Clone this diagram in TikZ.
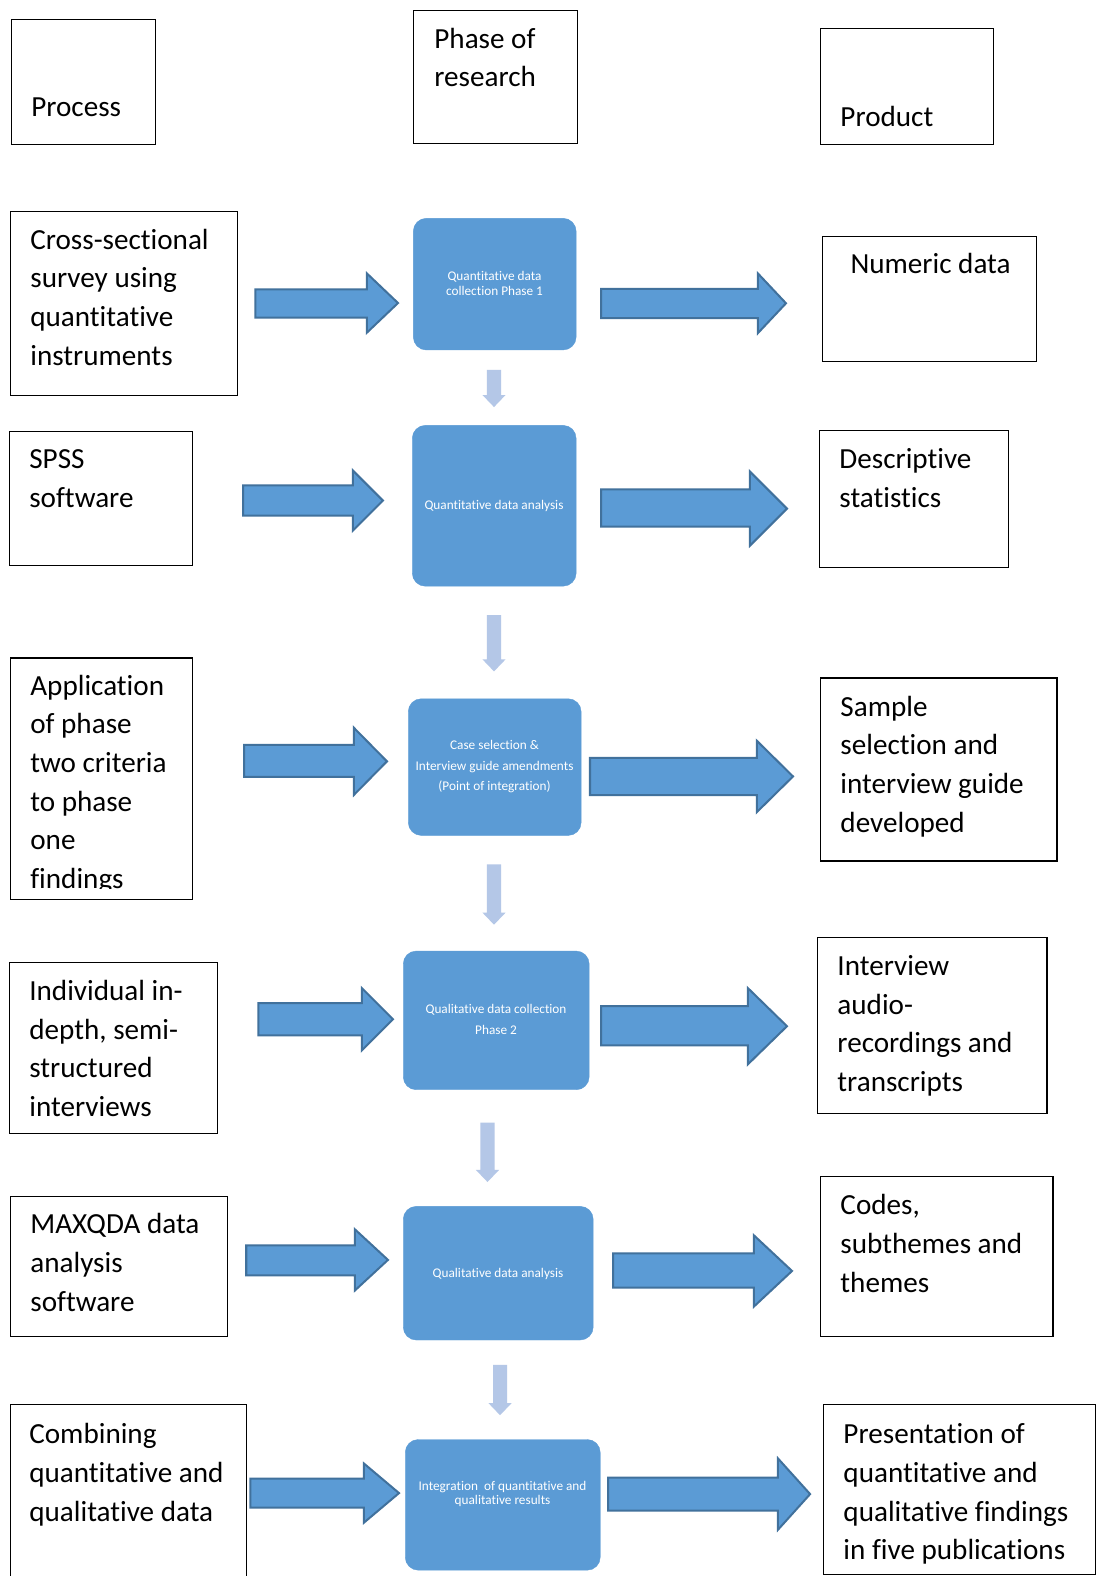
\documentclass[tikz,border=0pt]{standalone}
\usepackage{fontspec}
\setmainfont{Carlito}[Ligatures=NoCommon]
\definecolor{boxblue}{HTML}{5B9BD5}
\definecolor{arrowedge}{HTML}{41719C}
\definecolor{lightarrow}{HTML}{B4C7E7}
\tikzset{
  outline/.style={draw=black, line width=1.2pt, inner sep=0pt, anchor=north west},
  bluebox/.style={fill=boxblue, draw=boxblue, rounded corners=13pt, inner sep=0pt, anchor=north west},
  bigtext/.style={anchor=base west, inner sep=0pt, font=\fontsize{29}{38.5}\selectfont, text=black},
  smalltext/.style={inner sep=0pt, font=\fontsize{13.2}{14.2}\selectfont, text=white, align=center},
  widesmall/.style={smalltext, font=\fontsize{13.2}{20.5}\selectfont},
  blockarrow/.style={fill=boxblue, draw=arrowedge, line width=2pt, line join=miter},
  downarrow/.style={fill=lightarrow, draw=none},
}
\newcommand\plainbox[5]{\node[outline, minimum width={(#4-#2)*1pt}, minimum height={(#5-#3)*1pt}] (#1) at (#2,#3) {};}
\newcommand\bluebx[5]{\node[bluebox, minimum width={(#4-#2)*1pt}, minimum height={(#5-#3)*1pt}] (#1) at (#2,#3) {};}
\newcommand\txt[4]{\node[bigtext] (#1) at ({#2+2},#3) {\parbox[t]{400pt}{\raggedright #4}};}
\newcommand\rarrow[7]{\draw[blockarrow] (#1,#4) -- (#2,#4) -- (#2,#6) -- (#3,{(#6+#7)/2}) -- (#2,#7) -- (#2,#5) -- (#1,#5) -- cycle;}
\newcommand\darrow[3]{\fill[downarrow] ({#1-7},#2) -- ({#1+7},#2) -- ({#1+7},{#3-12}) -- ({#1+11.5},{#3-12}) -- (#1,#3) -- ({#1-11.5},{#3-12}) -- ({#1-7},{#3-12}) -- cycle;}
\begin{document}
\begin{tikzpicture}[x=1pt,y=-1pt]
\useasboundingbox (0,0) rectangle (1090,1568);
\fill[white] (0,0) rectangle (1090,1568);

% header
\plainbox{hproc}{11}{19}{154}{143}
\txt{thproc}{29}{116}{Process}
\plainbox{hphase}{411}{9.5}{574}{142.5}
\txt{thphase}{430}{48}{Phase of\\research}
\plainbox{hprod}{816}{28}{988}{143}
\txt{thprod}{834}{125.5}{Product}

% row 1
\plainbox{l1}{10}{210}{236}{393}
\txt{tl1}{28}{248}{Cross-sectional\\survey using\\quantitative\\instruments}
\bluebx{b1}{411}{217}{573}{348}
\node[smalltext] (tb1) at (492,282) {Quantitative data\\collection Phase 1};
\plainbox{r1}{818}{234.5}{1031}{359}
\txt{tr1}{844}{272.5}{Numeric data}
\rarrow{254}{365}{396}{288}{316}{272}{331}
\rarrow{598}{754}{782}{287.5}{316.5}{272}{331.5}
\darrow{491.5}{368}{405}

% row 2
\plainbox{l2}{9}{429}{191}{562}
\txt{tl2}{27}{466.5}{SPSS\\software}
\bluebx{b2}{410}{423}{573}{583}
\node[smalltext] (tb2) at (491.5,503) {Quantitative data analysis};
\plainbox{r2}{815}{428}{1003}{564}
\txt{tr2}{833}{466.5}{Descriptive\\statistics}
\rarrow{242}{351}{381}{483}{513}{468}{528}
\rarrow{598}{746}{783}{487}{524}{469}{543}
\darrow{491.5}{612}{668}

% row 3
\plainbox{l3}{10}{654}{191}{894}
\begin{scope}
\clip (10,654) rectangle (191,883.5);
\txt{tl3}{28}{691.5}{Application\\of phase\\two criteria\\to phase\\one\\findings}
\end{scope}
\bluebx{b3}{406}{695}{578}{831}
\node[widesmall] (tb3) at (492,763) {Case selection \&\\Interview guide amendments\\(Point of integration)};
\plainbox{r3}{816}{674}{1051}{856}
\txt{tr3}{834}{712.5}{Sample\\selection and\\interview guide\\developed}
\rarrow{243}{352}{385}{741}{773}{724}{791}
\rarrow{587}{753}{789}{754}{791}{737}{808}
\darrow{491.5}{860}{920}

% row 4
\plainbox{l4}{9}{957}{216}{1127}
\txt{tl4}{27}{995.5}{Individual in-\\depth, semi-\\structured\\interviews}
\bluebx{b4}{401}{946}{586}{1084}
\node[widesmall] (tb4) at (493.5,1014) {Qualitative data collection\\Phase 2};
\plainbox{r4}{813}{932}{1041}{1107}
\txt{tr4}{831}{970.5}{Interview\\audio-\\recordings and\\transcripts}
\rarrow{257}{360}{391}{998}{1030}{983}{1045}
\rarrow{598}{744}{783}{1001}{1040}{983}{1059}
\darrow{485}{1117}{1176}

% row 5
\plainbox{l5}{10}{1190}{226}{1329}
\txt{tl5}{28}{1227.5}{MAXQDA data\\analysis\\software}
\bluebx{b5}{401}{1200}{590}{1333}
\node[smalltext] (tb5) at (495.5,1267) {Qualitative data analysis};
\plainbox{r5}{816}{1170}{1047}{1329}
\txt{tr5}{834}{1208.5}{Codes,\\subthemes and\\themes}
\rarrow{245}{353}{386}{1239}{1269}{1223}{1284}
\rarrow{610}{750}{788}{1247}{1281}{1229}{1300}
\darrow{497.5}{1358}{1408}

% row 6
\plainbox{l6}{10}{1397}{245}{1575}
\txt{tl6}{27}{1436.5}{Combining\\quantitative and\\qualitative data}
\bluebx{b6}{403}{1432}{597}{1562}
\node[smalltext] (tb6) at (500,1486.5) {Integration\ \ of quantitative and\\qualitative results};
\plainbox{r6}{819}{1397}{1089.5}{1565.5}
\txt{tr6}{837}{1436.5}{Presentation of\\quantitative and\\qualitative findings\\in five publications}
\rarrow{249}{362}{397}{1471}{1500}{1456}{1515}
\rarrow{605}{774}{806}{1470}{1503}{1451}{1522}
\end{tikzpicture}
\end{document}
